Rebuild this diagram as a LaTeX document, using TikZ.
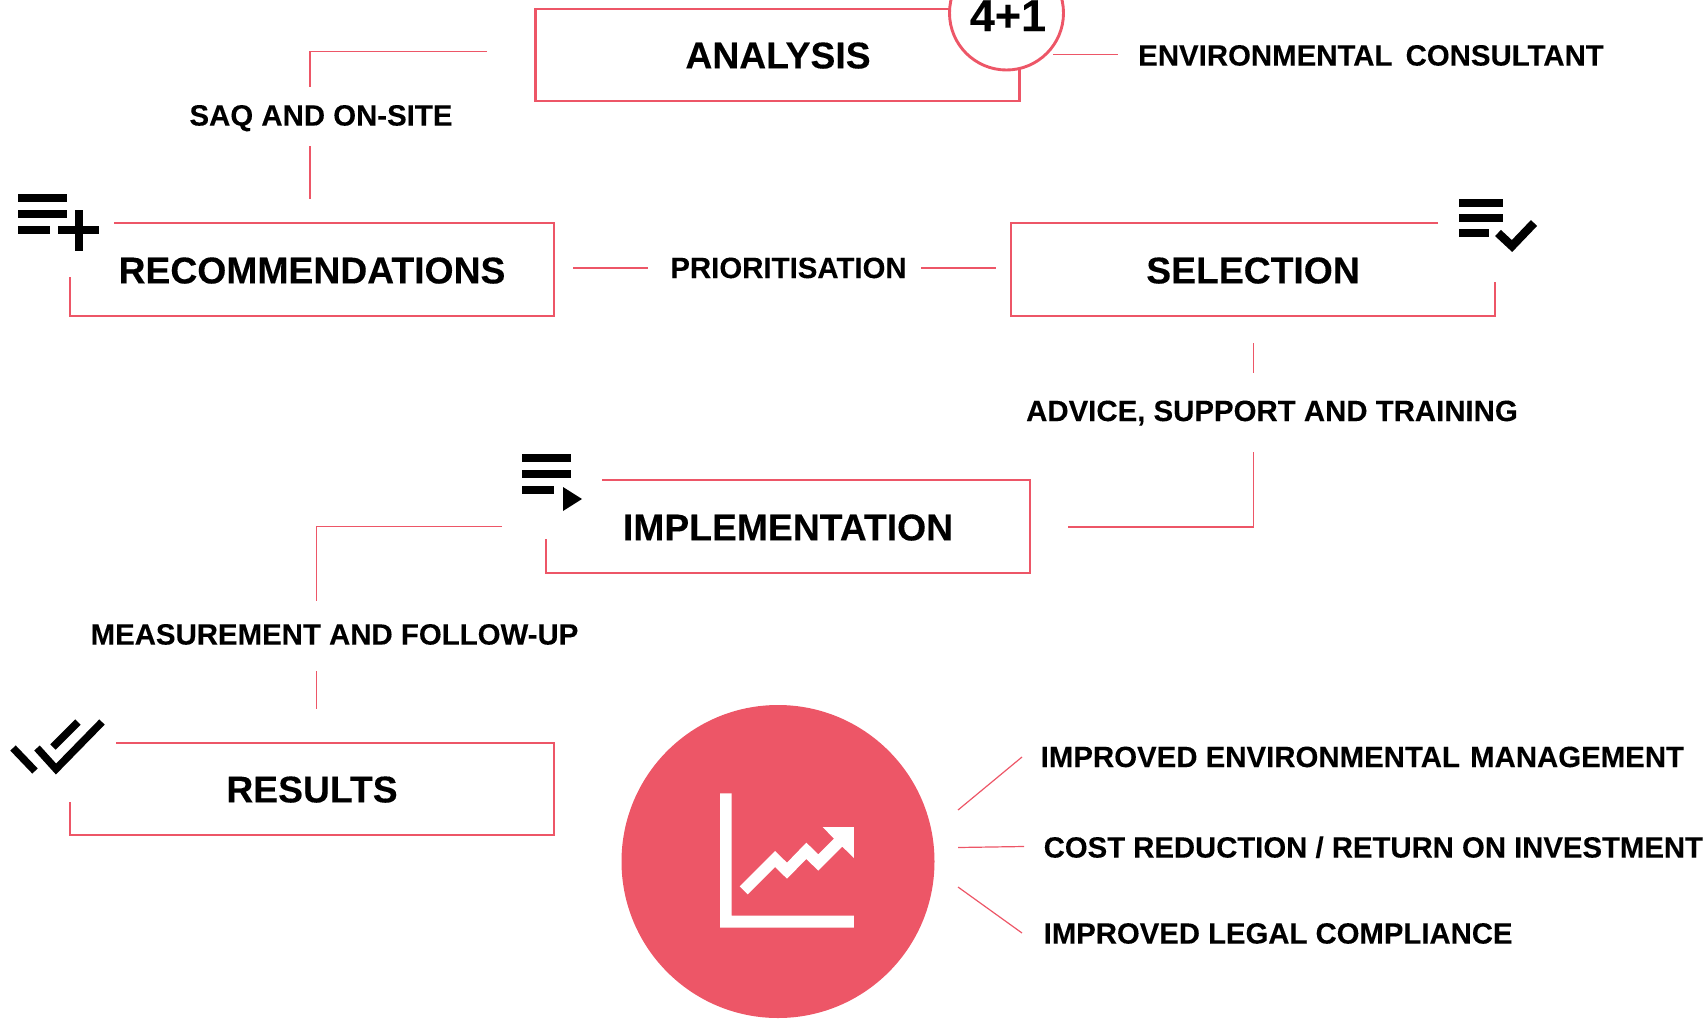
\documentclass[tikz,border=0pt]{standalone}
\usepackage{fontspec}
\setmainfont{Liberation Sans}[BoldFont={Liberation Sans Bold},BoldFeatures={FakeBold=0.15}]
\definecolor{coral}{HTML}{ED5667}
\tikzset{
  frame/.style={draw=coral,line width=2.9pt,line join=miter},
  conn/.style={draw=coral,line width=1.2pt},
  ink/.style={line width=8pt,black},
  inkc/.style={line width=7.5pt,black,line join=miter},
  title/.style={inner sep=0pt,font=\fontsize{37.3}{37.3}\selectfont\bfseries,text height=26.8pt,text depth=0pt},
  lab/.style={inner sep=0pt,font=\fontsize{29.4}{29.4}\selectfont\bfseries,text height=21.1pt,text depth=0pt},
  labl/.style={lab,anchor=west},
}
\begin{document}
\begin{tikzpicture}[x=1pt,y=-1pt]
\useasboundingbox (0,0) rectangle (1703,1018);
% boxes
\draw[frame] (535.5,9) rectangle (1019.5,101);
\node[circle,draw=coral,fill=white,line width=2.9pt,minimum size=114pt,inner sep=0pt] (badge) at (1006.5,13) {};
\node[inner sep=0pt,font=\fontsize{45}{45}\selectfont\bfseries,text height=32.4pt,text depth=0pt] (n41) at (1008,15) {4+1};
\node[title] (analysis) at (778,55) {ANALYSIS};
\draw[frame] (114,223) -- (554,223) -- (554,316) -- (70,316) -- (70,277);
\node[title] (rec) at (312,270) {RECOMMENDATIONS};
\draw[frame] (1438,223) -- (1011,223) -- (1011,316) -- (1495,316) -- (1495,282);
\node[title] (sel) at (1253,270) {SELECTION};
\draw[frame] (602,480) -- (1030,480) -- (1030,573) -- (546,573) -- (546,539);
\node[title] (impl) at (788,527) {IMPLEMENTATION};
\draw[frame] (116,743) -- (554,743) -- (554,835) -- (70,835) -- (70,802);
\node[title] (res) at (312,789) {RESULTS};
% labels
\node[lab] (saq) at (321,115) {SAQ AND ON-SITE};
\node[lab] (prio) at (788.5,267.5) {PRIORITISATION};
\node[lab] (adv) at (1272,410.5) {ADVICE, SUPPORT AND TRAINING};
\node[lab] (meas) at (334.5,634) {MEASUREMENT AND FOLLOW-UP};
\node[labl] (env) at (1138,55) {ENVIRONMENTAL\hspace{5pt} CONSULTANT};
\node[labl] (b1) at (1040.5,756.5) {IMPROVED ENVIRONMENTAL\hspace{2pt} MANAGEMENT};
\node[labl] (b2) at (1043.5,847) {\fontsize{29.3}{29.3}\selectfont COST REDUCTION / RETURN ON INVESTMENT};
\node[labl] (b3) at (1043.5,933) {\fontsize{29.3}{29.3}\selectfont IMPROVED LEGAL COMPLIANCE};
% connector ends
\coordinate (a1) at (487,51.5); \coordinate (a2) at (310,51.5); \coordinate (a3) at (310,87);
\coordinate (a4) at (310,146); \coordinate (a5) at (310,199);
\coordinate (p1) at (573,268); \coordinate (p2) at (648,268);
\coordinate (p3) at (921,268); \coordinate (p4) at (996,268);
\coordinate (s1) at (1253.5,343); \coordinate (s2) at (1253.5,373);
\coordinate (s3) at (1253.5,452); \coordinate (s4) at (1253.5,527); \coordinate (s5) at (1068,527);
\coordinate (m1) at (502,526.5); \coordinate (m2) at (316.5,526.5); \coordinate (m3) at (316.5,601);
\coordinate (m4) at (316.5,671); \coordinate (m5) at (316.5,709);
\coordinate (e1) at (1053,54.5); \coordinate (e2) at (1118,54.5);
\coordinate (c1) at (1022,757); \coordinate (c2) at (958,810);
\coordinate (c3) at (958,847.5); \coordinate (c4) at (1024,846.5);
\coordinate (c5) at (958,887); \coordinate (c6) at (1022,933);
\draw[conn] (a1) -- (a2) -- (a3);
\draw[conn] (a4) -- (a5);
\draw[conn] (p1) -- (p2);
\draw[conn] (p3) -- (p4);
\draw[conn] (s1) -- (s2);
\draw[conn] (s3) -- (s4) -- (s5);
\draw[conn] (m1) -- (m2) -- (m3);
\draw[conn] (m4) -- (m5);
\draw[conn] (e1) -- (e2);
\draw[conn] (c1) -- (c2);
\draw[conn] (c3) -- (c4);
\draw[conn] (c5) -- (c6);
% icon: list plus
\draw[ink] (18,198) -- (67,198) (18,214) -- (67,214) (18,230) -- (50,230) (58,230) -- (99,230) (79,210) -- (79,251);
% icon: list check
\draw[ink,line width=7.5pt] (1459,203) -- (1503,203) (1459,218) -- (1503,218) (1459,233) -- (1489,233);
\draw[inkc,line width=8.5pt] (1498,233) -- (1512,246) -- (1534,223);
% icon: list play
\draw[ink] (522,458) -- (571,458) (522,474) -- (571,474) (522,490) -- (554,490);
\fill[black] (563,487) -- (582,499) -- (563,511) -- cycle;
% icon: double check
\draw[inkc] (13,748) -- (35,771);
\draw[inkc] (37,748) -- (56,769) -- (102,722);
\draw[inkc] (53,747) -- (78,722);
% big circle
\node[circle,fill=coral,minimum size=313pt,inner sep=0pt] (disc) at (778,861.5) {};
\begin{scope}[shift={(690,770)},x=0.3333pt,y=-0.3333pt]
\fill[white] (90,70) -- (125,70) -- (125,437) -- (492,437) -- (492,473) -- (90,473) -- cycle;
\fill[white] (149,349) -- (255,243) -- (291,278) -- (349,218) -- (385,253) -- (432,206) -- (398,171) -- (492,171) -- (492,264) -- (457,230) -- (385,302) -- (349,267) -- (291,326) -- (255,291) -- (173,373) -- cycle;
\end{scope}
\end{tikzpicture}
\end{document}
